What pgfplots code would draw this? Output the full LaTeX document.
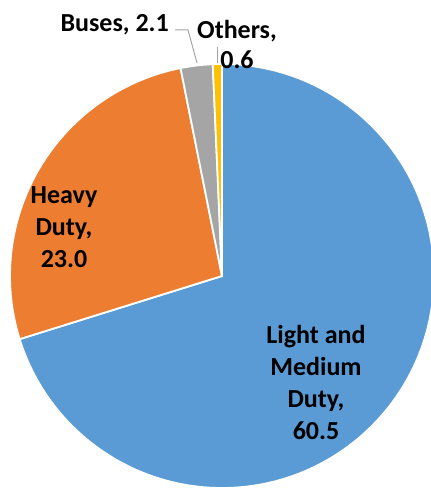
\documentclass[border=0pt]{standalone}
\usepackage{pgfplots}
\usepackage{pgfplotstable}
\pgfplotsset{compat=1.18}
\usepackage{fontspec}
\setmainfont{Carlito}

\definecolor{pieblue}{HTML}{5B9BD5}
\definecolor{pieorange}{HTML}{ED7D31}
\definecolor{piegray}{HTML}{A5A5A5}
\definecolor{pieyellow}{HTML}{FFC000}
\definecolor{leader}{HTML}{A6A6A6}

% share of each vehicle class
\pgfplotstableread{
value color
60.5  pieblue
23.0  pieorange
2.1   piegray
0.6   pieyellow
}\piedata

\begin{document}
\begin{tikzpicture}
% sum, then build the slices (clockwise from 12 o'clock)
\pgfplotstablegetrowsof{\piedata}
\pgfmathtruncatemacro\lastrow{\pgfplotsretval-1}
\def\total{0}
\pgfplotsforeachungrouped \i in {0,...,\lastrow}{%
  \pgfplotstablegetelem{\i}{value}\of\piedata
  \pgfmathsetmacro\total{\total+\pgfplotsretval}}
\def\curangle{90}
\def\pieslices{}
\pgfplotsforeachungrouped \i in {0,...,\lastrow}{%
  \pgfplotstablegetelem{\i}{value}\of\piedata \let\slicevalue\pgfplotsretval
  \pgfplotstablegetelem{\i}{color}\of\piedata \let\slicecolor\pgfplotsretval
  \pgfmathsetmacro\nextangle{\curangle-\slicevalue/\total*360}
  \xdef\pieslices{\unexpanded\expandafter{\pieslices}%
    \noexpand\fill[\slicecolor,draw=white,line width=1.8bp]
      (axis cs:222,216) -- ++(\curangle:212bp)
      arc[start angle=\curangle,end angle=\nextangle,radius=212bp] -- cycle;}
  \let\curangle\nextangle}

\begin{axis}[
  name=ax,
  hide axis,
  scale only axis,
  width=431bp, height=492bp,
  xmin=0, xmax=431, ymin=0, ymax=492,
  clip=false,
]
\pieslices
\draw[leader, line width=1bp] (axis cs:175,462) -- (axis cs:188,462) -- (axis cs:197,429);
\draw[leader, line width=1bp] (axis cs:217,445) -- (axis cs:217,429);
\begin{scope}[every node/.style={font=\fontsize{26bp}{32bp}\selectfont\bfseries, align=center, inner sep=0pt}]
\node at (axis cs:316,110) {Light and\\Medium\\Duty,\\60.5};
\node at (axis cs:64,265) {Heavy\\Duty,\\23.0};
\node[anchor=base east] at (axis cs:169,460) {Buses, 2.1};
\node[font=\fontsize{26bp}{30bp}\selectfont\bfseries] at (axis cs:237,448) {Others,\\0.6};
\end{scope}
\end{axis}
\pgfresetboundingbox
\useasboundingbox (ax.south west) rectangle (ax.north east);
\end{tikzpicture}
\end{document}
